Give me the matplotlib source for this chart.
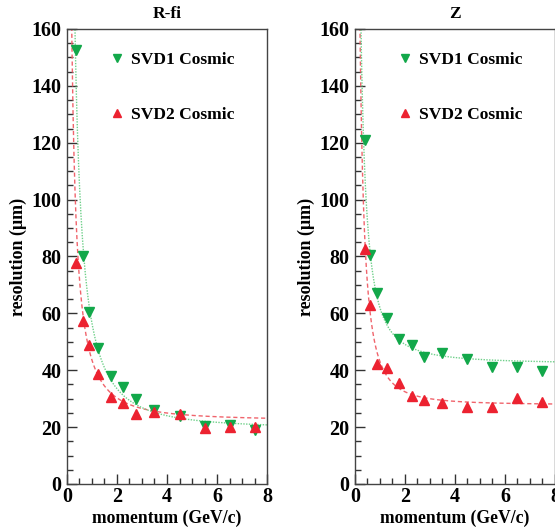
import numpy as np
import matplotlib
matplotlib.use('Agg')
import matplotlib.pyplot as plt
from matplotlib.ticker import MultipleLocator

plt.rcParams['font.family'] = ['Liberation Serif', 'DejaVu Serif']
plt.rcParams['font.weight'] = 'bold'

# momentum bins (GeV/c)
p_rfi = [0.38, 0.63, 0.87, 1.25, 1.75, 2.25, 2.75, 3.5, 4.5, 5.5, 6.5, 7.5]
p_z = [0.39, 0.62, 0.89, 1.27, 1.76, 2.27, 2.76, 3.5, 4.5, 5.5, 6.5, 7.5]

# R-fi resolution (um)
svd1_rfi = [152.6, 80.2, 60.6, 47.7, 38.0, 34.0, 29.9, 26.0, 23.9, 20.4, 20.7, 19.0]
svd2_rfi = [77.6, 57.3, 48.9, 38.6, 30.7, 28.4, 24.5, 25.4, 24.5, 19.6, 20.2, 20.2]

# Z resolution (um)
svd1_z = [121.0, 80.5, 67.3, 58.3, 50.9, 48.9, 44.5, 45.9, 43.9, 41.3, 41.3, 39.9]
svd2_z = [82.5, 62.9, 42.1, 40.7, 35.4, 31.0, 29.5, 28.4, 27.2, 27.0, 30.1, 28.9]

# fit parameters: sigma = sqrt(a^2 + (b / p^c)^2)
fit_svd1_rfi = (19.5, 53.0, 0.96)
fit_svd2_rfi = (22.3, 37.4, 0.87)
fit_svd1_z = (42.3, 45.2, 0.86)
fit_svd2_z = (27.8, 32.8, 0.975)

green = '#12a84a'
red = '#ec2230'
green_fit = '#6fd08a'
red_fit = '#f0646c'


def fit_curve(params, p):
    a, b, c = params
    return np.sqrt(a ** 2 + (b / p ** c) ** 2)


fig = plt.figure(figsize=(5.55, 5.27), dpi=100)
ax1 = fig.add_axes([0.1207, 0.0816, 0.3604, 0.8634])
ax2 = fig.add_axes([0.6396, 0.0816, 0.3604, 0.8634])

pp = np.linspace(0.1, 8, 400)
panels = [
    (ax1, 'R-fi', p_rfi, svd1_rfi, svd2_rfi, fit_svd1_rfi, fit_svd2_rfi),
    (ax2, 'Z', p_z, svd1_z, svd2_z, fit_svd1_z, fit_svd2_z),
]

for ax, title, p, s1, s2, f1, f2 in panels:
    ax.plot(pp, fit_curve(f2, pp), ls=(0, (3, 2)), color=red_fit, lw=1.0)
    ax.plot(pp, fit_curve(f1, pp), ls=(0, (1, 1)), color=green_fit, lw=1.0)
    h1, = ax.plot(p, s1, 'v', color=green, ms=7, ls='none', label='SVD1 Cosmic')
    h2, = ax.plot(p, s2, '^', color=red, ms=7, ls='none', label='SVD2 Cosmic')
    ax.set_xlim(0, 8)
    ax.set_ylim(0, 160)
    ax.xaxis.set_major_locator(MultipleLocator(2))
    ax.xaxis.set_minor_locator(MultipleLocator(0.5))
    ax.yaxis.set_major_locator(MultipleLocator(20))
    ax.yaxis.set_minor_locator(MultipleLocator(5))
    ax.tick_params(which='both', direction='in', top=False, right=False,
                   labelsize=14.5, colors='#333333', labelcolor='black')
    ax.tick_params(which='major', length=7, width=1)
    ax.tick_params(which='minor', length=4, width=1)
    ax.tick_params(axis='y', pad=4)
    ax.tick_params(axis='x', pad=2)
    for s in ax.spines.values():
        s.set_color('#444444')
        s.set_linewidth(1.0)
    ax.set_title(title, fontsize=12.5, fontweight='bold', pad=8)
    ax.set_xlabel('momentum (GeV/c)', fontsize=12.7, fontweight='bold', labelpad=2)
    ax.set_ylabel('resolution (\u03bcm)', fontsize=13, fontweight='bold', labelpad=3)
    ax.legend(handles=[h1, h2], loc='upper left', bbox_to_anchor=(0.13, 0.985),
              frameon=False, fontsize=12.6, labelspacing=2.25,
              handletextpad=0.3, handlelength=1.0, markerscale=0.85)

fig.savefig('out.png', dpi=100)
